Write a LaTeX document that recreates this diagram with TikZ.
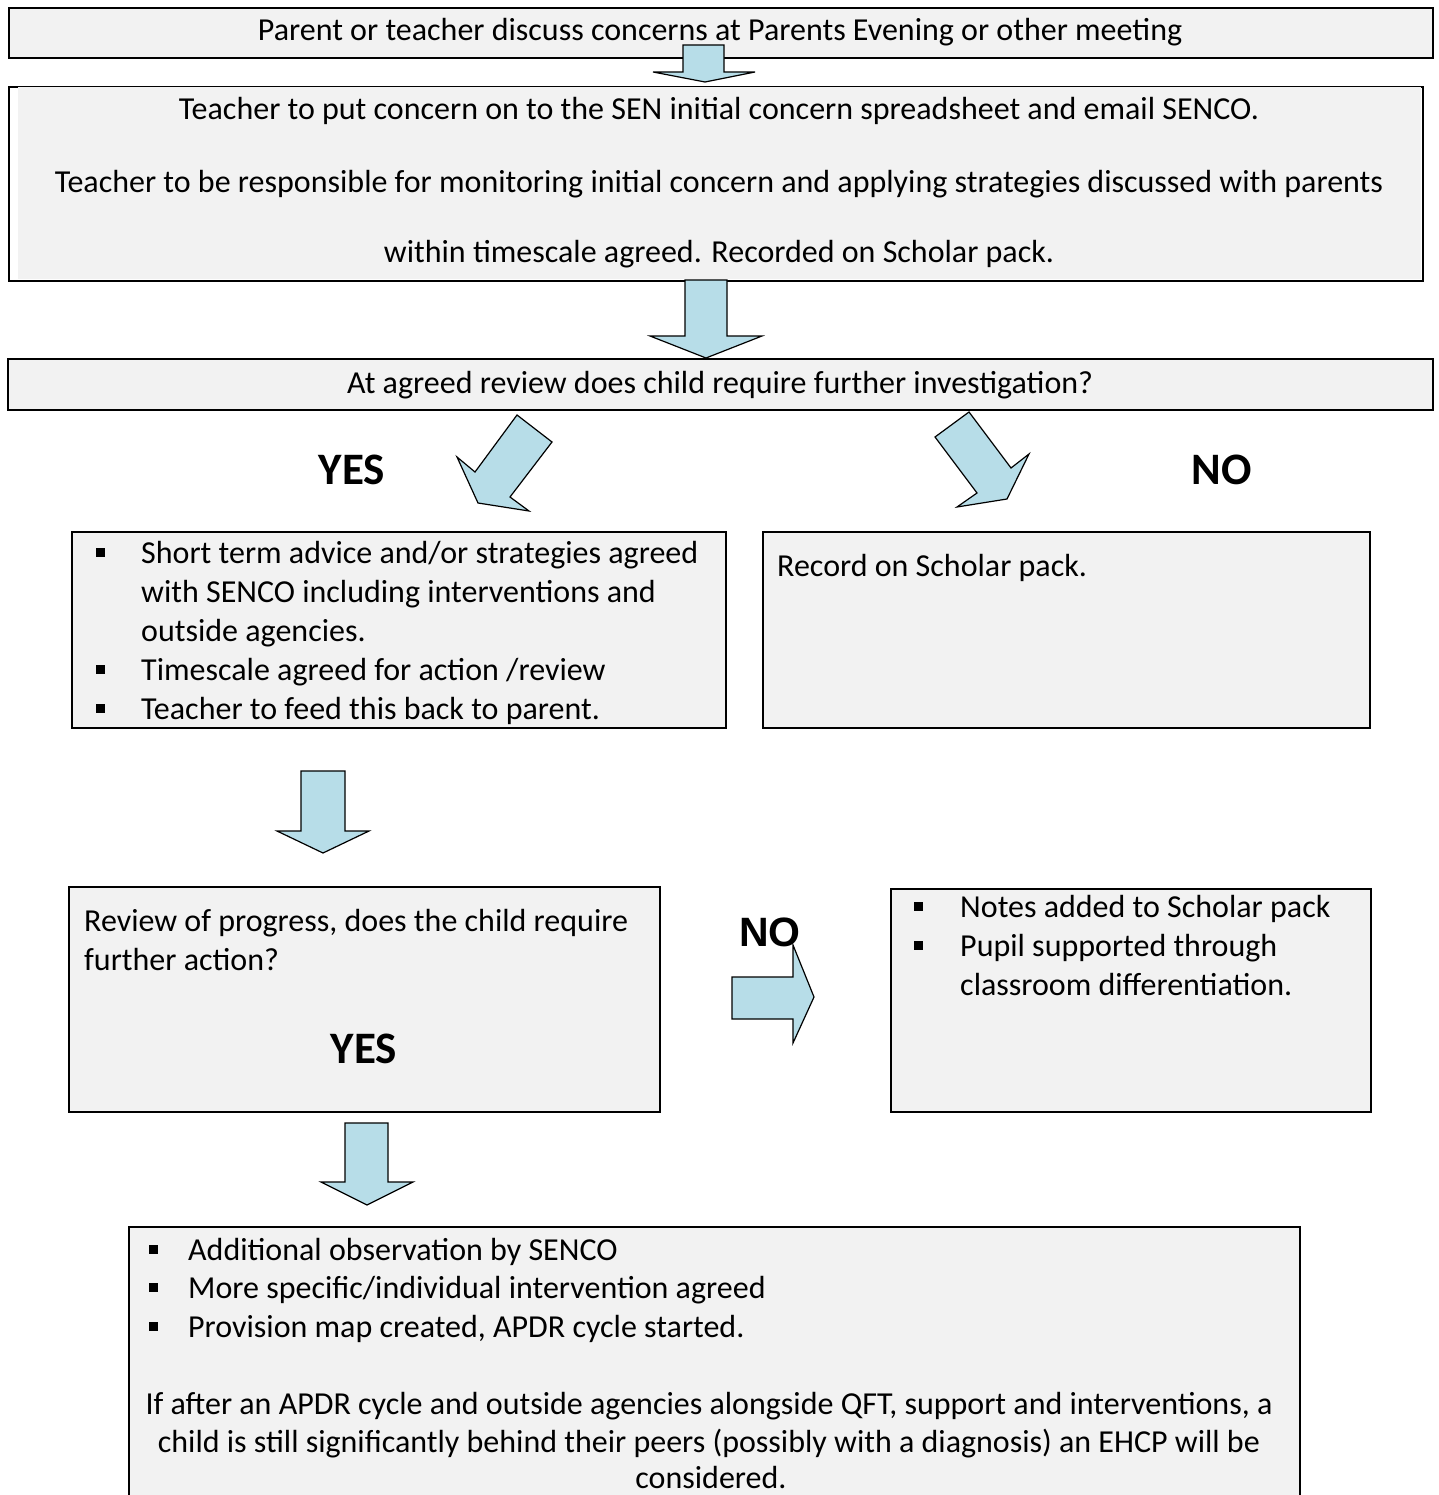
\documentclass[tikz,border=0pt]{standalone}
\usepackage{fontspec}
\setmainfont{Carlito}
\newfontfamily\arialfont{Liberation Sans}
\definecolor{boxgray}{RGB}{242,242,242}
\definecolor{arrowblue}{RGB}{183,221,232}
\begin{document}
\begin{tikzpicture}[x=1pt,y=-1pt,
  box/.style={draw=black, line width=1.8pt, fill=boxgray, anchor=north west, inner sep=0pt},
  blockarrow/.style={draw=black, line width=1.2pt, fill=arrowblue, line join=miter},
  txt/.style={inner sep=0pt, font=\fontsize{32}{39}\selectfont},
  big/.style={inner sep=0pt, font=\fontsize{45}{54}\selectfont\bfseries},
  bigarial/.style={inner sep=0pt, font=\fontsize{41}{48}\selectfont\arialfont\bfseries},
  bul/.style={fill=black, inner sep=0pt, minimum size=9pt}]
\useasboundingbox (0,0) rectangle (1438,1495);
\clip (0,0) rectangle (1438,1495);
\fill[white] (0,0) rectangle (1438,1495);

% boxes
\node[box, minimum width=1424pt, minimum height=50pt] (b1) at (8,7) {};
\node[box, fill=white, minimum width=1414pt, minimum height=194pt] (b2) at (8,86) {};
\fill[boxgray] (18,87) rectangle (1421,279);
\node[box, minimum width=1425pt, minimum height=51pt] (b3) at (7,358) {};
\node[box, minimum width=654pt, minimum height=196pt] (b4) at (71,531) {};
\node[box, minimum width=607pt, minimum height=196pt] (b5) at (762,531) {};
\node[box, minimum width=591pt, minimum height=225pt] (b6) at (68,886) {};
\node[box, minimum width=480pt, minimum height=223pt] (b7) at (890,888) {};
\node[box, minimum width=1171pt, minimum height=320pt] (b8) at (128,1226) {};

% texts
\node[txt, anchor=base] (t1) at (720,41) {Parent or teacher discuss concerns at Parents Evening or other meeting};
\node[txt, anchor=base] (t2a) at (719,120) {Teacher to put concern on to the SEN initial concern spreadsheet and email SENCO.};
\node[txt, anchor=base] (t2b) at (719,193) {Teacher to be responsible for monitoring initial concern and applying strategies discussed with parents};
\node[txt, anchor=base] (t2c) at (719,263) {within timescale agreed. Recorded on Scholar pack.};
\node[txt, anchor=base] (t3) at (720,393) {At agreed review does child require further investigation?};
\node[big, anchor=base] (yes1) at (352,484) {YES};
\node[big, anchor=base] (no1) at (1222,484) {NO};

\node[bul] (p4a) at (100,552) {};
\node[bul] (p4b) at (100,669) {};
\node[bul] (p4c) at (100,708) {};
\node[txt, anchor=base west] (t4a) at (141,563) {Short term advice and/or strategies agreed};
\node[txt, anchor=base west] (t4b) at (141,602) {with SENCO including interventions and};
\node[txt, anchor=base west] (t4c) at (141,641) {outside agencies.};
\node[txt, anchor=base west] (t4d) at (141,680) {Timescale agreed for action /review};
\node[txt, anchor=base west] (t4e) at (141,719) {Teacher to feed this back to parent.};

\node[txt, anchor=base west] (t5) at (777,576) {Record on Scholar pack.};

\node[txt, anchor=base west] (t6a) at (84,931) {Review of progress, does the child require};
\node[txt, anchor=base west] (t6b) at (84,970) {further action?};
\node[big, anchor=base] (yes2) at (364,1063) {YES};
\node[bigarial, anchor=base] (no2) at (770,946) {NO};

\node[bul] (p7a) at (918,906) {};
\node[bul] (p7b) at (918,945) {};
\node[txt, anchor=base west] (t7a) at (960,917) {Notes added to Scholar pack};
\node[txt, anchor=base west] (t7b) at (960,956) {Pupil supported through};
\node[txt, anchor=base west] (t7c) at (960,995) {classroom differentiation.};

\node[bul] (p8a) at (153,1249) {};
\node[bul] (p8b) at (153,1287) {};
\node[bul] (p8c) at (153,1326) {};
\node[txt, anchor=base west] (t8a) at (188,1260) {Additional observation by SENCO};
\node[txt, anchor=base west] (t8b) at (188,1298) {More specific/individual intervention agreed};
\node[txt, anchor=base west] (t8c) at (188,1337) {Provision map created, APDR cycle started.};
\node[txt, anchor=base] (t8d) at (709,1414) {If after an APDR cycle and outside agencies alongside QFT, support and interventions, a};
\node[txt, anchor=base] (t8e) at (709,1452) {child is still significantly behind their peers (possibly with a diagnosis) an EHCP will be};
\node[txt, anchor=base] (t8f) at (711,1488) {considered.};

% block arrows
\draw[blockarrow] (683,45) -- (724,45) -- (724,72) -- (755,72) -- (705,82) -- (653,72) -- (683,72) -- cycle;
\draw[blockarrow] (685,280) -- (727,280) -- (727,336) -- (762,336) -- (706,358) -- (650,336) -- (685,336) -- cycle;
\draw[blockarrow] (517,415) -- (552,442) -- (510,497) -- (529,511) -- (478,503) -- (457,457) -- (475,472) -- cycle;
\draw[blockarrow] (969,412) -- (1011,468) -- (1029,454) -- (1007,499) -- (957,507) -- (977,493) -- (935,437) -- cycle;
\draw[blockarrow] (301,771) -- (345,771) -- (345,831) -- (369,831) -- (323,853) -- (277,831) -- (301,831) -- cycle;
\draw[blockarrow] (732,977) -- (793,977) -- (793,945) -- (814,997) -- (793,1043) -- (793,1019) -- (732,1019) -- cycle;
\draw[blockarrow] (345,1123) -- (388,1123) -- (388,1182) -- (413,1182) -- (367,1205) -- (321,1182) -- (345,1182) -- cycle;
\end{tikzpicture}
\end{document}
